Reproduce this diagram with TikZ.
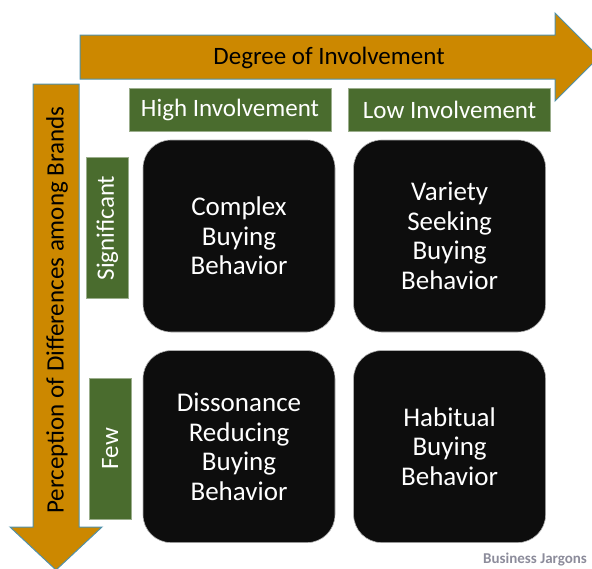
\documentclass[tikz,border=0pt]{standalone}
\usepackage{fontspec}
\setmainfont{Carlito}
\usetikzlibrary{positioning}
\definecolor{axisorange}{RGB}{204,136,0}
\definecolor{axisedge}{RGB}{80,145,170}
\definecolor{cellgreen}{RGB}{74,108,46}
\definecolor{cellblack}{RGB}{13,13,13}
\definecolor{markgray}{RGB}{140,140,155}
\tikzset{
	axis arrow/.style={fill=axisorange, draw=axisedge, line width=1pt},
	axis text/.style={text=black, font=\fontsize{25}{30}\selectfont, inner sep=0pt},
	head box/.style={fill=cellgreen, draw=cellgreen!55!white, line width=0.8pt, text=white,
		font=\fontsize{25}{30}\selectfont, minimum width=202pt, minimum height=43pt, inner sep=0pt},
	side box/.style={head box, minimum width=141pt, minimum height=42pt, rotate=90},
	behav box/.style={fill=cellblack, draw=gray!60, line width=0.6pt, rounded corners=28pt,
		minimum width=192pt, minimum height=192pt, text=white, align=center,
		font=\fontsize{27}{29.5}\selectfont, inner sep=0pt},
}
\begin{document}
\begin{tikzpicture}[x=1pt,y=-1pt]
	\clip (0,0) rectangle (592,568);
	% axes
	\draw [axis arrow] (80,35) -- (555,35) -- (555,13) -- (599,57) -- (555,101) -- (555,79) -- (80,79) -- cycle;
	\draw [axis arrow] (33,84) -- (79,84) -- (79,527) -- (102,527) -- (56,570) -- (10,527) -- (33,527) -- cycle;
	\node [axis text] (degree) at (329,58) {Degree of Involvement};
	\node [axis text, rotate=90] (perception) at (57,310) {Perception of Differences among Brands};
	% behaviours
	\node [behav box] (complex) at (239,236) {Complex\\Buying\\Behavior};
	\node [behav box, right=18pt of complex] (variety) {Variety\\Seeking\\Buying\\Behavior};
	\node [behav box, below=18pt of complex] (dissonance) {Dissonance\\Reducing\\Buying\\Behavior};
	\node [behav box, right=18pt of dissonance] (habitual) {Habitual\\Buying\\Behavior};
	% headings (side boxes are turned, so xshift moves them up)
	\node [head box, above=8pt of complex, xshift=-9pt] (high) {High Involvement};
	\node [head box, above=8pt of variety] (low) {Low Involvement};
	\node [side box, left=14pt of complex, anchor=south, xshift=8pt] (significant) {Significant};
	\node [side box, left=11pt of dissonance, anchor=south, xshift=-2pt] (few) {Few};
	\node [anchor=west, text=markgray, font=\bfseries\fontsize{15}{18}\selectfont, inner sep=0pt] (jargons) at (483,560) {Business Jargons};
\end{tikzpicture}
\end{document}
